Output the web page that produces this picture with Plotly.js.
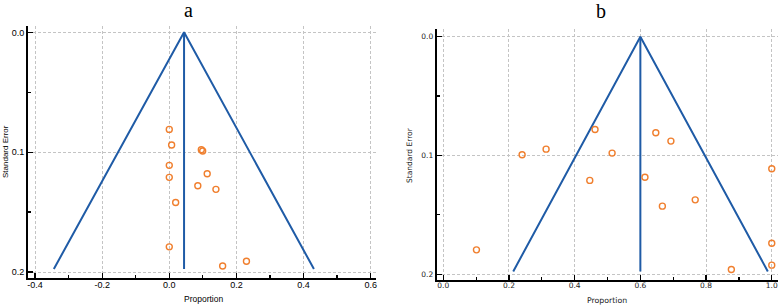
<!DOCTYPE html>
<html>
<head>
<meta charset="utf-8">
<script src="https://cdn.plot.ly/plotly-3.0.1.min.js"></script>
<style>html,body{margin:0;padding:0;background:#fff;}#chart{width:778px;height:306px;}</style>
</head>
<body>
<div id="chart"></div>
<script>
// Panel a data
const propA = [0.0, 0.007, 0.0955, 0.0995, 0.0, 0.113, 0.0, 0.085, 0.139, 0.019, 0.0, 0.230, 0.159];
const seA   = [0.081, 0.094, 0.098, 0.099, 0.111, 0.118, 0.121, 0.128, 0.131, 0.142, 0.179, 0.191, 0.195];
const funnelAx = [-0.344, 0.044, 0.431];
const funnelAy = [0.1975, 0.0, 0.1975];
const pooledAx = [0.044, 0.044];
const pooledAy = [0.0, 0.1975];

// Panel b data
const propB = [0.101, 0.240, 0.313, 0.462, 0.514, 0.446, 0.647, 0.693, 0.614, 0.667, 0.767, 1.0, 1.0, 1.0, 0.877];
const seB   = [0.1795, 0.0994, 0.0947, 0.0781, 0.098, 0.121, 0.0809, 0.0879, 0.1183, 0.1427, 0.1374, 0.1112, 0.1739, 0.1924, 0.196];
const funnelBx = [0.213, 0.6, 0.988];
const funnelBy = [0.1977, 0.0, 0.1977];
const pooledBx = [0.6, 0.6];
const pooledBy = [0.0, 0.1977];

// ticks
const xTicksA = [-0.4, -0.2, 0.0, 0.2, 0.4, 0.6];
const xTickTextA = ["-0.4", "-0.2", "0.0", "0.2", "0.4", "0.6"];
const xMinorA = [-0.3, -0.1, 0.1, 0.3, 0.5];
const xTicksB = [0.0, 0.2, 0.4, 0.6, 0.8, 1.0];
const xTickTextB = ["0.0", "0.2", "0.4", "0.6", "0.8", "1.0"];
const xMinorB = [0.1, 0.3, 0.5, 0.7, 0.9];
const yTicks = [0.0, 0.1, 0.2];
const yTickText = ["0.0", "0.1", "0.2"];
const yMinor = [0.05, 0.15];

const blue = '#1f5ba6';
const orange = '#f07f2e';
const W = 778, H = 306;
const px = v => v / W;
const py = v => 1 - v / H;

const lineStyle = {color: blue, width: 2};
const markerStyle = {symbol: 'circle-open', size: 6, color: orange, line: {color: orange, width: 1.4}};

const traces = [
  {x: funnelAx, y: funnelAy, mode: 'lines', line: lineStyle, xaxis: 'x', yaxis: 'y', hoverinfo: 'skip'},
  {x: pooledAx, y: pooledAy, mode: 'lines', line: lineStyle, xaxis: 'x', yaxis: 'y', hoverinfo: 'skip'},
  {x: propA, y: seA, mode: 'markers', marker: markerStyle, xaxis: 'x', yaxis: 'y'},
  {x: funnelBx, y: funnelBy, mode: 'lines', line: lineStyle, xaxis: 'x2', yaxis: 'y2', hoverinfo: 'skip'},
  {x: pooledBx, y: pooledBy, mode: 'lines', line: lineStyle, xaxis: 'x2', yaxis: 'y2', hoverinfo: 'skip'},
  {x: propB, y: seB, mode: 'markers', marker: markerStyle, xaxis: 'x2', yaxis: 'y2', cliponaxis: false}
];

const fontA = {family: 'Liberation Sans, Arial, sans-serif', size: 9, color: '#000'};
const fontB = {family: 'DejaVu Sans, sans-serif', size: 7.5, color: '#222'};
const grid = {showgrid: true, gridcolor: '#c4c4c4', gridwidth: 1, griddash: '3px,2px', zeroline: false,
  showline: true, linecolor: '#000', linewidth: 2, ticks: 'inside', ticklen: 5, tickwidth: 1.2, tickcolor: '#000'};

function xax(domain, range, vals, text, minor, font) {
  return Object.assign({}, grid, {domain: domain, range: range, tickmode: 'array', tickvals: vals, ticktext: text,
    tickfont: font, ticklabelstandoff: -3,
    minor: {tickmode: 'array', tickvals: minor, ticks: 'inside', ticklen: 3, tickcolor: '#000', showgrid: false}});
}
function yax(domain, range, font) {
  return Object.assign({}, grid, {domain: domain, range: range, tickmode: 'array', tickvals: yTicks, ticktext: yTickText,
    tickfont: font,
    minor: {tickmode: 'array', tickvals: yMinor, ticks: 'inside', ticklen: 3, tickcolor: '#000', showgrid: false}});
}

const xa = xax([px(28), px(376)], [-0.421, 0.616], xTicksA, xTickTextA, xMinorA, fontA); xa.anchor = 'y';
const ya = yax([py(278), py(26)], [0.205, -0.0053], fontA); ya.anchor = 'x';
const xb = xax([px(436.7), 1], [-0.020, 1.019], xTicksB, xTickTextB, xMinorB, fontB); xb.anchor = 'y2';
const yb = yax([py(280), py(29)], [0.2049, -0.0065], fontB); yb.anchor = 'x2';

const layout = {
  width: W, height: H,
  margin: {l: 0, r: 0, t: 0, b: 0},
  paper_bgcolor: '#fff', plot_bgcolor: '#fff',
  showlegend: false,
  xaxis: xa, yaxis: ya, xaxis2: xb, yaxis2: yb,
  annotations: [
    {text: 'a', x: px(188), y: py(10), xref: 'paper', yref: 'paper', showarrow: false, xanchor: 'center', yanchor: 'middle',
     font: {family: 'Liberation Serif, Times New Roman, serif', size: 20, color: '#000'}},
    {text: 'b', x: px(601), y: py(11), xref: 'paper', yref: 'paper', showarrow: false, xanchor: 'center', yanchor: 'middle',
     font: {family: 'Liberation Serif, Times New Roman, serif', size: 20, color: '#000'}},
    {text: 'Standard Error', x: px(5), y: py(152), xref: 'paper', yref: 'paper', showarrow: false, textangle: -90,
     xanchor: 'center', yanchor: 'middle', font: {family: 'Liberation Sans, Arial, sans-serif', size: 8, color: '#000'}},
    {text: 'Proportion', x: px(203), y: py(299), xref: 'paper', yref: 'paper', showarrow: false,
     xanchor: 'center', yanchor: 'middle', font: {family: 'Liberation Sans, Arial, sans-serif', size: 8.5, color: '#000'}},
    {text: 'Standard Error', x: px(409), y: py(155), xref: 'paper', yref: 'paper', showarrow: false, textangle: -90,
     xanchor: 'center', yanchor: 'middle', font: {family: 'DejaVu Sans, sans-serif', size: 7.5, color: '#222'}},
    {text: 'Proportion', x: px(606.5), y: py(300), xref: 'paper', yref: 'paper', showarrow: false,
     xanchor: 'center', yanchor: 'middle', font: {family: 'DejaVu Sans, sans-serif', size: 7.8, color: '#222'}}
  ]
};

Plotly.newPlot('chart', traces, layout, {staticPlot: true, displayModeBar: false});
</script>
</body>
</html>
